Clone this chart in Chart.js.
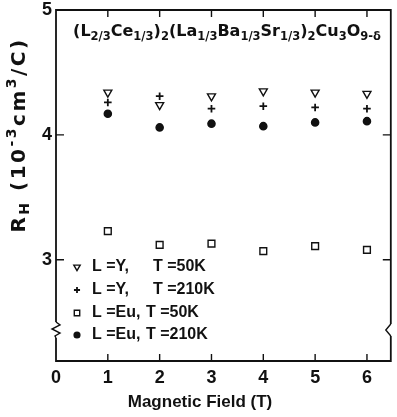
<!DOCTYPE html>
<html>
<head>
<meta charset="utf-8">
<script src="https://cdn.jsdelivr.net/npm/chart.js@4/dist/chart.umd.min.js"></script>
<style>
  html, body { margin: 0; padding: 0; background: #fff; }
  canvas { display: block; }
</style>
</head>
<body>
<canvas id="hall" width="397" height="417"></canvas>
<script>
// magnetic field (T)
const fields = [1, 2, 3, 4, 5, 6];
// R_H in 10^-3 cm^3/C
const yAt50K = [4.34, 4.24, 4.31, 4.35, 4.34, 4.33];
const yAt210K = [4.26, 4.31, 4.21, 4.23, 4.22, 4.21];
const euAt50K = [3.23, 3.12, 3.13, 3.07, 3.11, 3.08];
const euAt210K = [4.17, 4.06, 4.09, 4.07, 4.10, 4.11];

const xTicks = [0, 1, 2, 3, 4, 5, 6];
const yTicks = [3, 4, 5];

const FONT = 'Liberation Sans';
const WIDE = 'DejaVu Sans';

const pts = (ys) => fields.map((f, i) => ({ x: f, y: ys[i] }));

const series = [
  { label: 'L =Y,', temp: 'T =50K', data: pts(yAt50K), pointStyle: 'triangle', rotation: 180, radius: 4.6, fill: false },
  { label: 'L =Y,', temp: 'T =210K', data: pts(yAt210K), pointStyle: 'cross', rotation: 0, radius: 3.8, fill: false },
  { label: 'L =Eu,', temp: 'T =50K', data: pts(euAt50K), pointStyle: 'rect', rotation: 0, radius: 4.8, fill: false },
  { label: 'L =Eu,', temp: 'T =210K', data: pts(euAt210K), pointStyle: 'circle', rotation: 0, radius: 3.6, fill: true }
];

// draws a run of text pieces, each with its own size and baseline shift
function richText(ctx, parts, x, y, family, spacing) {
  ctx.letterSpacing = (spacing || 0) + 'px';
  let total = 0;
  parts.forEach(p => {
    ctx.font = 'bold ' + p.size + 'px "' + family + '"';
    p.w = ctx.measureText(p.t).width;
    total += p.w;
  });
  let cx = x - total / 2;
  parts.forEach(p => {
    ctx.font = 'bold ' + p.size + 'px "' + family + '"';
    ctx.fillText(p.t, cx, y + (p.dy || 0));
    cx += p.w;
  });
  ctx.letterSpacing = '0px';
  return total;
}

const decor = {
  id: 'decor',
  afterDraw(chart) {
    const ctx = chart.ctx;
    const a = chart.chartArea;
    const xs = chart.scales.x, ys = chart.scales.y;
    ctx.save();
    ctx.strokeStyle = '#111';
    ctx.fillStyle = '#111';
    ctx.lineWidth = 1.8;
    ctx.lineCap = 'butt';

    // frame, with a break in the left and right sides
    const brk = 330;
    ctx.beginPath();
    ctx.moveTo(a.left, brk - 8);
    ctx.lineTo(a.left, a.top);
    ctx.lineTo(a.right, a.top);
    ctx.lineTo(a.right, brk - 6);
    ctx.moveTo(a.right, brk + 6);
    ctx.lineTo(a.right, a.bottom);
    ctx.lineTo(a.left, a.bottom);
    ctx.lineTo(a.left, brk + 8);
    ctx.stroke();

    ctx.lineWidth = 1.4;
    ctx.beginPath();
    ctx.moveTo(a.left, brk - 8);
    ctx.lineTo(a.left + 4, brk - 5);
    ctx.lineTo(a.left - 4, brk - 1);
    ctx.lineTo(a.left + 4, brk + 3);
    ctx.lineTo(a.left - 1, brk + 6);
    ctx.lineTo(a.left, brk + 8);
    ctx.moveTo(a.right, brk - 6);
    ctx.lineTo(a.right - 5, brk);
    ctx.lineTo(a.right, brk + 6);
    ctx.stroke();

    // inward tick marks
    ctx.beginPath();
    xTicks.slice(1).forEach(v => {
      const px = xs.getPixelForValue(v);
      ctx.moveTo(px, a.top); ctx.lineTo(px, a.top + 7);
      ctx.moveTo(px, a.bottom); ctx.lineTo(px, a.bottom - 7);
    });
    yTicks.slice(0, 2).forEach(v => {
      const py = ys.getPixelForValue(v);
      ctx.moveTo(a.left, py); ctx.lineTo(a.left + 8, py);
      ctx.moveTo(a.right, py); ctx.lineTo(a.right - 8, py);
    });
    ctx.stroke();

    // compound formula
    ctx.textBaseline = 'alphabetic';
    const big = 16, small = 11.5, dn = 4;
    richText(ctx, [
      { t: '(L', size: big }, { t: '2/3', size: small, dy: dn },
      { t: 'Ce', size: big }, { t: '1/3', size: small, dy: dn },
      { t: ')', size: big }, { t: '2', size: small, dy: dn },
      { t: '(La', size: big }, { t: '1/3', size: small, dy: dn },
      { t: 'Ba', size: big }, { t: '1/3', size: small, dy: dn },
      { t: 'Sr', size: big }, { t: '1/3', size: small, dy: dn },
      { t: ')', size: big }, { t: '2', size: small, dy: dn },
      { t: 'Cu', size: big }, { t: '3', size: small, dy: dn },
      { t: 'O', size: big }, { t: '9-δ', size: small, dy: dn }
    ], 227, 36, WIDE);

    // y axis title
    ctx.save();
    ctx.translate(25, 135);
    ctx.rotate(-Math.PI / 2);
    richText(ctx, [
      { t: 'R', size: 20 }, { t: 'H', size: 14, dy: 4 },
      { t: ' (10', size: 20 }, { t: '-3', size: 14, dy: -9 },
      { t: 'cm', size: 20 }, { t: '3', size: 14, dy: -9 },
      { t: '/C)', size: 20 }
    ], 0, 0, WIDE, 2.5);
    ctx.restore();

    // x axis title
    ctx.textAlign = 'center';
    ctx.textBaseline = 'middle';
    ctx.font = 'bold 17px "' + FONT + '"';
    ctx.fillText('Magnetic Field (T)', 200, 402);

    // legend
    const rows = [267, 290, 313, 335];
    const tempX = [153, 153, 146, 146];
    ctx.textAlign = 'left';
    chart.data.datasets.forEach((ds, i) => {
      ctx.lineWidth = ds.borderWidth;
      ctx.strokeStyle = '#111';
      ctx.fillStyle = ds.backgroundColor;
      Chart.helpers.drawPoint(ctx, {
        pointStyle: ds.pointStyle, rotation: ds.rotation,
        radius: ds.pointRadius * 0.8, borderWidth: ds.borderWidth
      }, 77, rows[i]);
      ctx.fillStyle = '#111';
      ctx.font = 'bold 16px "' + FONT + '"';
      ctx.fillText(series[i].label, 92, rows[i]);
      ctx.fillText(series[i].temp, tempX[i], rows[i]);
    });
    ctx.restore();
  }
};

new Chart(document.getElementById('hall'), {
  type: 'scatter',
  data: {
    datasets: series.map(s => ({
      label: s.label + ' ' + s.temp,
      data: s.data,
      pointStyle: s.pointStyle,
      rotation: s.rotation,
      pointRadius: s.radius,
      pointHoverRadius: s.radius,
      borderColor: '#111',
      backgroundColor: s.fill ? '#111' : '#fff',
      borderWidth: s.pointStyle === 'cross' ? 1.8 : 1.4
    }))
  },
  options: {
    responsive: false,
    animation: false,
    devicePixelRatio: 1,
    layout: { padding: 0 },
    plugins: { legend: { display: false }, tooltip: { enabled: false } },
    scales: {
      x: {
        type: 'linear', min: 0, max: 6.46,
        afterBuildTicks: s => { s.ticks = xTicks.map(v => ({ value: v })); },
        afterFit: s => { s.height = 56; s.paddingLeft = 0; s.paddingRight = 3; },
        grid: { display: false, drawTicks: false },
        border: { display: false },
        ticks: { color: '#111', padding: 6, font: { family: FONT, size: 18, weight: 'bold' } }
      },
      y: {
        type: 'linear', min: 2.19, max: 5,
        afterBuildTicks: s => { s.ticks = yTicks.map(v => ({ value: v })); },
        afterFit: s => { s.width = 56; s.paddingTop = 10; s.paddingBottom = 0; },
        grid: { display: false, drawTicks: false },
        border: { display: false },
        ticks: { color: '#111', padding: 4, font: { family: FONT, size: 18, weight: 'bold' } }
      }
    }
  },
  plugins: [decor]
});
</script>
</body>
</html>
